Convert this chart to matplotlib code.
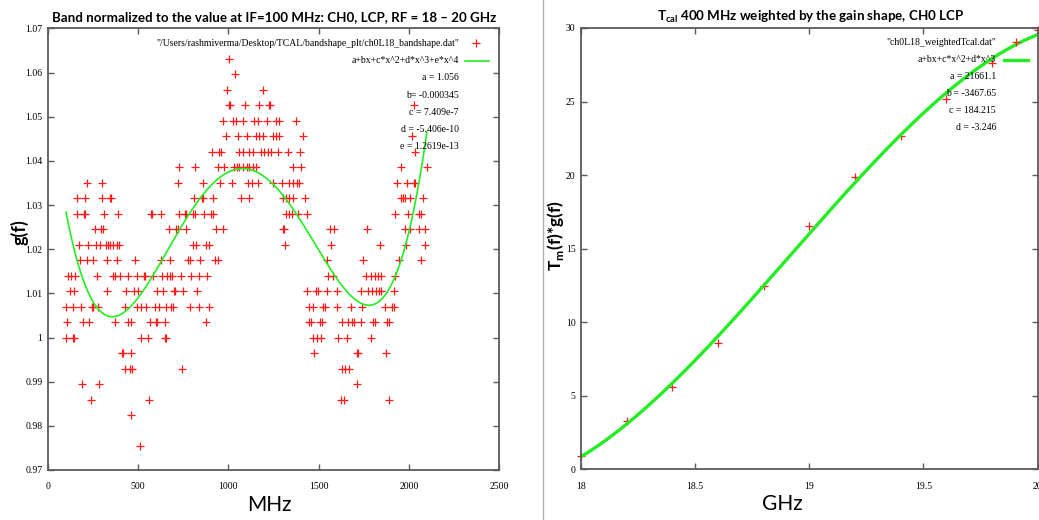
import matplotlib
matplotlib.use('Agg')
import matplotlib.pyplot as plt
import numpy as np
from matplotlib.ticker import FuncFormatter

sans = ['Lato', 'DejaVu Sans']
serif = ['Liberation Serif', 'DejaVu Serif']
plt.rcParams['mathtext.fontset'] = 'custom'
plt.rcParams['mathtext.rm'] = 'Lato'
plt.rcParams['mathtext.bf'] = 'Lato:bold'

# left panel: the band shape takes discrete values, so keep the IF frequencies (MHz) per level
gain_levels = [1.06316, 1.05965, 1.05614, 1.05263, 1.04912, 1.04561, 1.04211, 1.03860,
               1.03509, 1.03158, 1.02807, 1.02456, 1.02105, 1.01754, 1.01404, 1.01053,
               1.00702, 1.00351, 1.0, 0.99649, 0.99298, 0.98947, 0.98596, 0.98246, 0.97544]
freqs_on_level = [
    [1005],
    [1039],
    [990, 1194],
    [1003, 1007, 1094, 1172, 1227, 1230, 2029],
    [968, 1024, 1042, 1083, 1144, 1162, 1212, 1264, 1279, 1375],
    [987, 1051, 1101, 1153, 1172, 1190, 1249, 1264, 1282, 1415, 2016],
    [909, 950, 959, 1061, 1079, 1116, 1135, 1181, 1199, 1218, 1236, 1273, 1329, 1397, 2036],
    [725, 817, 941, 978, 1033, 1046, 1061, 1079, 1101, 1116, 1135, 1153, 1356, 1404, 1959, 2101],
    [214, 299, 721, 859, 954, 1020, 1107, 1131, 1162, 1245, 1297, 1338, 1356, 1378, 1391,
     1935, 1990, 2027, 2036],
    [159, 203, 301, 344, 347, 809, 854, 861, 915, 1070, 1116, 1301, 1319, 1338, 1360, 1423,
     1959, 1966, 1981, 2008, 2077],
    [163, 201, 205, 309, 390, 569, 577, 628, 725, 758, 767, 804, 817, 865, 902, 915, 1319,
     1334, 1353, 1386, 1434, 1925, 1996, 2055, 2069],
    [259, 292, 307, 669, 710, 721, 767, 931, 972, 1301, 1310, 1563, 1585, 1770, 1977, 2008,
     2055, 2088],
    [170, 224, 264, 288, 320, 331, 344, 362, 381, 395, 804, 822, 874, 891, 1316, 1570, 1842,
     1984, 2088],
    [177, 214, 251, 329, 384, 484, 625, 678, 776, 785, 841, 924, 941, 1545, 1748, 1944, 2069],
    [113, 127, 150, 270, 358, 373, 399, 445, 492, 532, 540, 582, 632, 662, 674, 688, 739, 795,
     835, 883, 1552, 1582, 1761, 1789, 1814, 1829, 1848, 1922],
    [122, 146, 325, 432, 477, 499, 606, 637, 698, 706, 748, 828, 1438, 1484, 1497, 1545, 1600,
     1733, 1774, 1798, 1818, 1833, 1848, 1916],
    [100, 140, 183, 242, 249, 279, 429, 495, 517, 545, 591, 613, 656, 684, 693, 785, 837, 891,
     1447, 1471, 1526, 1534, 1600, 1678, 1742, 1866, 1907, 1916],
    [107, 192, 229, 371, 445, 460, 564, 601, 606, 650, 878, 1447, 1460, 1508, 1521, 1632, 1663,
     1687, 1696, 1733, 1803, 1814, 1879, 1892],
    [98, 137, 144, 514, 554, 647, 656, 1471, 1493, 1515, 1607, 1659, 1792],
    [408, 418, 458, 1474, 1711, 1718, 1874],
    [425, 454, 466, 743, 1632, 1644, 1668],
    [188, 285, 1711],
    [236, 558, 1626, 1641, 1888],
    [462],
    [508],
]

# quartic fit from the gnuplot key (a..e)
fit4_coeffs = [1.056, -0.000345, 7.409e-7, -5.406e-10, 1.2619e-13]
fit4_labels = ['a = 1.056', 'b= -0.000345', 'c = 7.409e-7', 'd = -5.406e-10', 'e = 1.2619e-13']
fit4_range = [100, 2100]

# right panel: weighted Tcal vs RF
rf_ghz = [18.0, 18.2, 18.4, 18.6, 18.8, 19.0, 19.2, 19.4, 19.6, 19.8, 20.0]
tcal_gain = [0.9, 3.28, 5.62, 8.59, 12.47, 16.54, 19.87, 22.66, 25.17, 27.64, 29.85]
fit3_labels = ['a = 21661.1', 'b = -3467.65', 'c = 184.215', 'd = -3.246']

red = '#ff1a1a'
green = '#22ee22'
spine_col = '#5a5a5a'

fig = plt.figure(figsize=(10.39, 5.2), dpi=100)


def style_axes(ax):
    for s in ax.spines.values():
        s.set_color(spine_col)
        s.set_linewidth(1.3)
    ax.tick_params(direction='in', top=True, right=True, length=4, width=1,
                   color=spine_col, labelsize=7)
    ax.tick_params(axis='x', pad=9)
    ax.tick_params(axis='y', pad=4)
    for lab in ax.get_xticklabels() + ax.get_yticklabels():
        lab.set_family(serif)
    ax.xaxis.set_major_formatter(FuncFormatter(lambda v, p: '%g' % v))
    ax.yaxis.set_major_formatter(FuncFormatter(lambda v, p: '%g' % round(v, 4)))


# ---- left panel
ax1 = fig.add_axes([0.0462, 0.0962, 0.4341, 0.849])
for g, fs in zip(gain_levels, freqs_on_level):
    ax1.plot(fs, [g] * len(fs), ls='none', marker='+', color=red, ms=6, mew=0.9)
xf = np.linspace(fit4_range[0], fit4_range[1], 400)
ax1.plot(xf, np.polyval(fit4_coeffs[::-1], xf), color=green, lw=1.2)
ax1.set_xlim(0, 2500)
ax1.set_ylim(0.97, 1.07)
ax1.set_xticks(np.arange(0, 2501, 500))
ax1.set_yticks(np.arange(0.97, 1.0701, 0.01))
style_axes(ax1)

key_font = dict(family=serif, fontsize=7, ha='right', va='center', transform=ax1.transAxes)
ax1.text(0.911, 0.967, '"/Users/rashmiverma/Desktop/TCAL/bandshape_plt/ch0L18_bandshape.dat"', **key_font)
ax1.plot([0.949], [0.967], marker='+', color=red, ms=6, mew=0.9, transform=ax1.transAxes)
ax1.text(0.911, 0.9275, 'a+bx+c*x^2+d*x^3+e*x^4', **key_font)
ax1.plot([0.925, 0.978], [0.9275, 0.9275], color=green, lw=1.2, transform=ax1.transAxes)
for i, lab in enumerate(fit4_labels):
    ax1.text(0.911, 0.888 - i * 0.039, lab, **key_font)

# ---- right panel
ax2 = fig.add_axes([0.5592, 0.0975, 0.4394, 0.8487])
ax2.plot(rf_ghz, tcal_gain, ls='none', marker='+', color=red, ms=6, mew=0.9, clip_on=False)
p3 = np.polyfit(rf_ghz, tcal_gain, 3)
xr = np.linspace(18, 20, 300)
ax2.plot(xr, np.polyval(p3, xr), color=green, lw=2.4)
ax2.set_xlim(18, 20)
ax2.set_ylim(0, 30)
ax2.set_xticks([18, 18.5, 19, 19.5, 20])
ax2.set_yticks(np.arange(0, 31, 5))
style_axes(ax2)

key_font2 = dict(family=serif, fontsize=7, ha='right', va='center', transform=ax2.transAxes)
ax2.text(0.909, 0.968, '"ch0L18_weightedTcal.dat"', **key_font2)
ax2.plot([0.953], [0.968], marker='+', color=red, ms=6, mew=0.9, transform=ax2.transAxes)
ax2.text(0.909, 0.9275, 'a+bx+c*x^2+d*x^3', **key_font2)
ax2.plot([0.927, 0.979], [0.9275, 0.9275], color=green, lw=2.4, transform=ax2.transAxes)
for i, lab in enumerate(fit3_labels):
    ax2.text(0.909, 0.889 - i * 0.0385, lab, **key_font2)

# titles and axis labels
fig.text(274 / 1039, 1 - 17 / 520,
         'Band normalized to the value at IF=100 MHz: CH0, LCP, RF = 18 \u2013 20 GHz',
         ha='center', va='center', fontsize=9.6, fontweight='bold', family=sans)
fig.text(811 / 1039, 1 - 17 / 520,
         r'T$_{\mathbf{cal}}$ 400 MHz weighted by the gain shape, CH0 LCP',
         ha='center', va='center', fontsize=9.6, fontweight='bold', family=sans)
fig.text(269 / 1039, 1 - 505 / 520, 'MHz', ha='center', va='center', fontsize=15, family=sans)
fig.text(782 / 1039, 1 - 504 / 520, 'GHz', ha='center', va='center', fontsize=15, family=sans)
fig.text(19 / 1039, 1 - 232 / 520, 'g(f)', ha='center', va='center', rotation=90,
         fontsize=13, fontweight='bold', family=sans)
fig.text(556 / 1039, 1 - 236 / 520, r'T$_{\mathbf{m}}$(f)*g(f)', ha='center', va='center',
         rotation=90, fontsize=12.5, fontweight='bold', family=sans)

# divider between the two screenshots
fig.add_artist(plt.Line2D([542.5 / 1039, 542.5 / 1039], [0, 1], color='#b0b0b0', lw=1,
                          transform=fig.transFigure))

fig.savefig('out.png', dpi=100)
